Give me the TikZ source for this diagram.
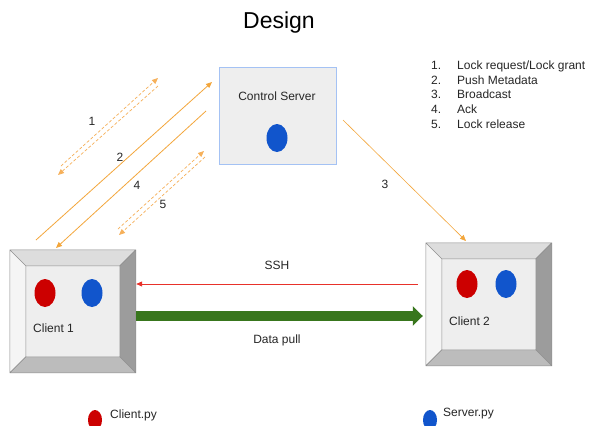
\documentclass[tikz,border=0pt]{standalone}
\usepackage{fontspec}
\setmainfont{Liberation Sans}
\usetikzlibrary{arrows.meta,shapes.geometric}

\definecolor{flow}{HTML}{F3A63B}
\definecolor{flowlight}{HTML}{F6B05A}
\definecolor{sshred}{HTML}{E8312A}
\definecolor{pullgreen}{HTML}{38761D}
\definecolor{dotred}{HTML}{CC0000}
\definecolor{dotblue}{HTML}{1155CC}
\definecolor{boxfill}{HTML}{EEEEEE}
\definecolor{boxline}{HTML}{A4C2F4}
\definecolor{bvtop}{HTML}{DDDDDD}
\definecolor{bvleft}{HTML}{F5F5F5}
\definecolor{bvright}{HTML}{9C9C9C}
\definecolor{bvbottom}{HTML}{BCBCBC}
\definecolor{bvline}{HTML}{8E8E8E}

\tikzset{
  txt/.style={inner sep=0pt, font=\fontsize{12}{14}\selectfont, text=black!85},
  dot/.style={ellipse, inner sep=0pt, minimum width=21pt, minimum height=28pt},
  smalldot/.style={ellipse, inner sep=0pt, minimum width=14pt, minimum height=20pt},
  tip/.style={-{Triangle[length=6pt,width=5pt]}},
  flowline/.style={draw=flow, line width=0.8pt, tip},
  flowdash/.style={draw=flowlight, line width=0.7pt, dash pattern=on 3pt off 2pt, tip},
  clientbox/.style={minimum width=126pt, minimum height=123pt, inner sep=0pt},
  bevel/.pic={
    \fill[bvtop] (0,0) -- (126,0) -- (110,16) -- (16,16) -- cycle;
    \fill[bvleft] (0,0) -- (16,16) -- (16,107) -- (0,123) -- cycle;
    \fill[bvright] (126,0) -- (126,123) -- (110,107) -- (110,16) -- cycle;
    \fill[bvbottom] (0,123) -- (126,123) -- (110,107) -- (16,107) -- cycle;
    \fill[boxfill] (16,16) rectangle (110,107);
    \draw[bvline, line width=0.6pt] (0,0) rectangle (126,123)
      (16,16) rectangle (110,107)
      (0,0) -- (16,16) (126,0) -- (110,16)
      (0,123) -- (16,107) (126,123) -- (110,107);
  }
}

\begin{document}
\begin{tikzpicture}[x=1pt, y=-1pt]
\useasboundingbox (0,0) rectangle (590,426);
\fill[white] (0,0) rectangle (590,426);

% title
\node[txt, anchor=base, text=black, font=\fontsize{23}{26}\selectfont] (title) at (279,28) {Design};

% control server
\node[draw=boxline, fill=boxfill, line width=0.8pt, minimum width=117pt, minimum height=97pt, inner sep=0pt] (server) at (277.5,115.5) {};
\node[txt, anchor=base] (serverlabel) at (277,100) {Control Server};
\node[dot, fill=dotblue] (serverdot) at (277,138) {};

% clients
\node[clientbox] (client1) at (73,311.5) {};
\pic at (client1.north west) {bevel};
\node[dot, fill=dotred] (c1red) at (45,293) {};
\node[dot, fill=dotblue] (c1blue) at (92,293) {};
\node[txt, anchor=base west] (c1label) at (33,332) {Client 1};

\node[clientbox] (client2) at (489,304.5) {};
\pic at (client2.north west) {bevel};
\node[dot, fill=dotred] (c2red) at (467,284) {};
\node[dot, fill=dotblue] (c2blue) at (506,284) {};
\node[txt, anchor=base west] (c2label) at (449,325) {Client 2};

% ssh and data pull
\draw[sshred, line width=0.8pt, tip] ([xshift=-8pt]client2.west |- 0,284) -- (client1.east |- 0,284);
\node[txt, anchor=base] (sshlabel) at (277,269) {SSH};
\draw[pullgreen, line width=10pt, -{Triangle[length=10pt,width=19pt]}]
  (client1.east |- 0,316) -- ([xshift=-3pt]client2.west |- 0,316);
\node[txt, anchor=base] (pulllabel) at (277,343) {Data pull};

% messages between client 1 and the server
\coordinate (m1a) at (61,166);
\coordinate (m1b) at (158,78);
\coordinate (m1c) at (158,86);
\coordinate (m1d) at (58,175);
\draw[flowdash] (m1a) -- (m1b);
\draw[flowdash] (m1c) -- (m1d);
\node[txt] (n1) at (92,121) {1};

\coordinate (m2a) at (36,240);
\coordinate (m2b) at (212,82);
\draw[flowline] (m2a) -- (m2b);
\node[txt] (n2) at (120,157) {2};

\coordinate (m4a) at (206,111);
\coordinate (m4b) at (56,248);
\draw[flowline] (m4a) -- (m4b);
\node[txt] (n4) at (137,185) {4};

\coordinate (m5a) at (118,229);
\coordinate (m5b) at (204,151);
\coordinate (m5c) at (205,157);
\coordinate (m5d) at (119,235);
\draw[flowdash] (m5a) -- (m5b);
\draw[flowdash] (m5c) -- (m5d);
\node[txt] (n5) at (163,204) {5};

% broadcast to client 2
\coordinate (m3a) at (343,120);
\coordinate (m3b) at (466,241);
\draw[flowline, line width=0.6pt] (m3a) -- (m3b);
\node[txt] (n3) at (385,184) {3};

% legend of messages
\foreach \i/\t [count=\k] in {1/Lock request\slash Lock grant, 2/Push Metadata, 3/Broadcast, 4/Ack, 5/Lock release}{
  \node[txt, anchor=base west] (num\k) at (431,{69.5+14.7*(\k-1)}) {\i.};
  \node[txt, anchor=base west] (item\k) at (457,{69.5+14.7*(\k-1)}) {\t};
}

% legend of scripts
\node[smalldot, fill=dotred] (legred) at (95,420) {};
\node[txt, anchor=base west] (legclient) at (110,418) {Client.py};
\node[smalldot, fill=dotblue] (legblue) at (430,420) {};
\node[txt, anchor=base west] (legserver) at (443,416) {Server.py};
\end{tikzpicture}
\end{document}
